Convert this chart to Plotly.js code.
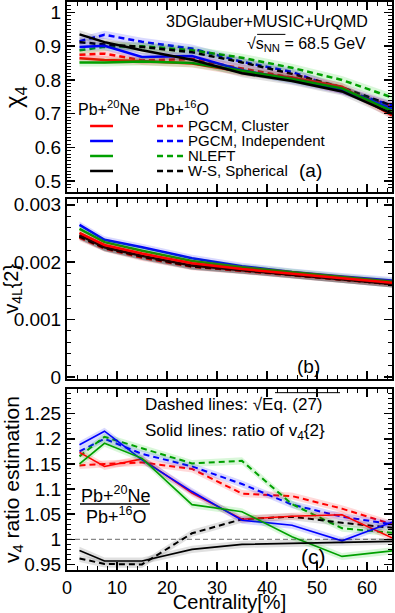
<!DOCTYPE html>
<html>
<head>
<meta charset="utf-8">
<script src="https://cdn.plot.ly/plotly-3.0.1.min.js"></script>
<style>
  body { margin: 0; background: #fff; }
  #plot { width: 395px; height: 613px; }
</style>
</head>
<body>
<div id="plot"></div>
<script>
// centrality bins [%]
const centrality = [2.5, 7.5, 15, 25, 35, 45, 55, 65];

// (a) chi_4 : Pb+20Ne (solid) and Pb+16O (dashed)
const chiNeCluster = [0.864, 0.859, 0.856, 0.849, 0.824, 0.807, 0.780, 0.695];
const chiNeIndep   = [0.898, 0.901, 0.868, 0.871, 0.829, 0.800, 0.770, 0.715];
const chiNeNleft   = [0.852, 0.852, 0.855, 0.850, 0.827, 0.803, 0.775, 0.708];
const chiNeWS      = [0.935, 0.912, 0.888, 0.860, 0.820, 0.797, 0.766, 0.700];
const chiOCluster  = [0.875, 0.878, 0.858, 0.862, 0.834, 0.807, 0.770, 0.722];
const chiOIndep    = [0.915, 0.934, 0.913, 0.893, 0.854, 0.824, 0.770, 0.725];
const chiONleft    = [0.888, 0.898, 0.900, 0.888, 0.866, 0.836, 0.800, 0.748];
const chiOWS       = [0.912, 0.905, 0.898, 0.882, 0.852, 0.818, 0.778, 0.724];

// (b) v4L{2}
const v4NeCluster = [0.00251, 0.00230, 0.00215, 0.00198, 0.00188, 0.00180, 0.00172, 0.00164];
const v4NeIndep   = [0.00265, 0.00239, 0.00226, 0.00207, 0.00193, 0.00183, 0.00175, 0.00168];
const v4NeNleft   = [0.00258, 0.00235, 0.00220, 0.00202, 0.00191, 0.00182, 0.00174, 0.00166];
const v4NeWS      = [0.00247, 0.00226, 0.00211, 0.00194, 0.00186, 0.00178, 0.00170, 0.00162];
const v4OCluster  = [0.00243, 0.00224, 0.00208, 0.00192, 0.00185, 0.00177, 0.00169, 0.00162];
const v4OIndep    = [0.00245, 0.00225, 0.00210, 0.00193, 0.00186, 0.00178, 0.00170, 0.00162];
const v4ONleft    = [0.00245, 0.00225, 0.00210, 0.00193, 0.00186, 0.00178, 0.00170, 0.00162];
const v4OWS       = [0.00245, 0.00225, 0.00210, 0.00193, 0.00186, 0.00178, 0.00170, 0.00162];

// (c) ratio estimation: solid = ratio of v4{2}, dashed = sqrt(Eq. 27)
const ratioCluster    = [1.173, 1.145, 1.160, 1.092, 1.040, 1.046, 1.049, 1.003];
const ratioIndep      = [1.188, 1.215, 1.158, 1.095, 1.038, 1.028, 0.997, 1.034];
const ratioNleft      = [1.150, 1.191, 1.161, 1.069, 1.055, 1.005, 0.966, 0.977];
const ratioWS         = [0.978, 0.957, 0.957, 0.980, 0.990, 0.992, 0.993, 0.996];
const estimCluster    = [1.147, 1.150, 1.153, 1.140, 1.091, 1.086, 1.061, 1.030];
const estimIndep      = [1.175, 1.200, 1.170, 1.145, 1.110, 1.069, 1.045, 1.030];
const estimNleft      = [1.165, 1.204, 1.181, 1.151, 1.156, 1.070, 1.022, 1.013];
const estimWS         = [0.962, 0.951, 0.950, 1.012, 1.040, 1.045, 1.033, 1.023];

// half widths of the shaded bands
const errA = 0.012;
const errB = 0.00006;
const errC = 0.007;

const FONT = "Liberation Sans, Arial, sans-serif";
const RED = "#ff0000", BLUE = "#0000ff", GREEN = "#00a000", BLACK = "#000000";
const BAND = {
  [RED]: "rgba(255,0,0,0.15)",
  [BLUE]: "rgba(0,0,255,0.15)",
  [GREEN]: "rgba(0,200,0,0.15)",
  [BLACK]: "rgba(0,0,0,0.12)",
};
const DASH = "6px,4px";

const traces = [];

// line with a shaded band around it
function addSeries(xa, ya, values, color, dashed, width, err) {
  traces.push({
    x: centrality, y: values.map(v => v - err), xaxis: xa, yaxis: ya,
    mode: "lines", line: { width: 0, color: color }, hoverinfo: "skip", showlegend: false,
  });
  traces.push({
    x: centrality, y: values.map(v => v + err), xaxis: xa, yaxis: ya,
    mode: "lines", line: { width: 0, color: color }, fill: "tonexty", fillcolor: BAND[color],
    hoverinfo: "skip", showlegend: false,
  });
  traces.push({
    x: centrality, y: values, xaxis: xa, yaxis: ya,
    mode: "lines", line: { width: width, color: color, dash: dashed ? DASH : "solid" },
    showlegend: false,
  });
}

// panel (a)
addSeries("x", "y", chiOCluster, RED, true, 2.5, errA);
addSeries("x", "y", chiOIndep, BLUE, true, 2.5, errA);
addSeries("x", "y", chiONleft, GREEN, true, 2.5, errA);
addSeries("x", "y", chiOWS, BLACK, true, 2.5, errA);
addSeries("x", "y", chiNeCluster, RED, false, 2.5, errA);
addSeries("x", "y", chiNeIndep, BLUE, false, 2.5, errA);
addSeries("x", "y", chiNeNleft, GREEN, false, 2.5, errA);
addSeries("x", "y", chiNeWS, BLACK, false, 2.5, errA);

// panel (b)
addSeries("x2", "y2", v4OIndep, BLUE, true, 2.5, errB);
addSeries("x2", "y2", v4ONleft, GREEN, true, 2.5, errB);
addSeries("x2", "y2", v4OCluster, RED, true, 2.5, errB);
addSeries("x2", "y2", v4OWS, BLACK, true, 2.5, errB);
addSeries("x2", "y2", v4NeIndep, BLUE, false, 2.5, errB);
addSeries("x2", "y2", v4NeNleft, GREEN, false, 2.5, errB);
addSeries("x2", "y2", v4NeWS, BLACK, false, 2.5, errB);
addSeries("x2", "y2", v4NeCluster, RED, false, 2.5, errB);

// panel (c)
addSeries("x3", "y3", estimCluster, RED, true, 2, errC);
addSeries("x3", "y3", estimIndep, BLUE, true, 2, errC);
addSeries("x3", "y3", estimNleft, GREEN, true, 2, errC);
addSeries("x3", "y3", estimWS, BLACK, true, 2, errC);
addSeries("x3", "y3", ratioCluster, RED, false, 1.6, errC);
addSeries("x3", "y3", ratioIndep, BLUE, false, 1.6, errC);
addSeries("x3", "y3", ratioNleft, GREEN, false, 1.6, errC);
addSeries("x3", "y3", ratioWS, BLACK, false, 1.6, errC);

function xAxis(anchor, labels) {
  return {
    anchor: anchor, domain: [0, 1], range: [0, 65],
    tickmode: "linear", tick0: 0, dtick: 10,
    ticks: "inside", ticklen: 8, tickwidth: 1.5, tickcolor: "#000",
    minor: { dtick: 2, ticks: "inside", ticklen: 4, tickwidth: 1, tickcolor: "#000" },
    showline: true, linewidth: 2, linecolor: "#000", mirror: "ticks",
    showgrid: false, zeroline: false, showticklabels: labels,
    tickfont: { family: FONT, size: 18, color: "#000" },
  };
}

function yAxis(anchor, domain, range, dtick, tick0, minor, title, titleSize, standoff) {
  return {
    anchor: anchor, domain: domain, range: range,
    tickmode: "linear", tick0: tick0, dtick: dtick, exponentformat: "none",
    ticks: "inside", ticklen: 8, tickwidth: 1.5, tickcolor: "#000",
    minor: { dtick: minor, ticks: "inside", ticklen: 4, tickwidth: 1, tickcolor: "#000" },
    showline: true, linewidth: 2, linecolor: "#000", mirror: "ticks",
    showgrid: false, zeroline: false,
    tickfont: { family: FONT, size: 19, color: "#000" },
    title: { text: title, font: { family: FONT, size: titleSize, color: "#000" }, standoff: standoff },
  };
}

const ann = (text, x, y, size, xanchor) => ({
  text: text, x: x, y: y, xref: "paper", yref: "paper", showarrow: false,
  xanchor: xanchor || "center", yanchor: "middle",
  font: { family: FONT, size: size, color: "#000" },
});

const legendLine = (x0, x1, y, color, dashed) => ({
  type: "line", xref: "paper", yref: "paper", x0: x0, x1: x1, y0: y, y1: y,
  line: { color: color, width: 2.5, dash: dashed ? DASH : "solid" },
});

const rows = [0.7817, 0.7553, 0.7289, 0.7025];
const colors = [RED, BLUE, GREEN, BLACK];
const names = ["PGCM, Cluster", "PGCM, Independent", "NLEFT", "W-S, Spherical"];

const shapes = [];
const annotations = [];
rows.forEach((y, i) => {
  shapes.push(legendLine(0.071, 0.1415, y, colors[i], false));
  shapes.push(legendLine(0.277, 0.357, y, colors[i], true));
  annotations.push(ann(names[i], 0.366, y, 15, "left"));
});
annotations.push(ann("Pb+<sup>20</sup>Ne", 0.129, 0.8134, 16));
annotations.push(ann("Pb+<sup>16</sup>O", 0.354, 0.8134, 16));
annotations.push(ann("3DGlauber+MUSIC+UrQMD", 0.932, 0.9665, 16, "right"));
annotations.push(ann("\u221As<sub>NN</sub> = 68.5 GeV", 0.926, 0.926, 16, "right"));
annotations.push(ann("(a)", 0.748, 0.704, 19));
annotations.push(ann("(b)", 0.742, 0.359, 19));
annotations.push(ann("Dashed lines: \u221AEq. (27)", 0.234, 0.2905, 17, "left"));
annotations.push(ann("Solid lines: ratio of v<sub>4</sub>{2}", 0.234, 0.243, 17, "left"));
annotations.push(ann("Pb+<sup>20</sup>Ne", 0.151, 0.1338, 18));
annotations.push(ann("Pb+<sup>16</sup>O", 0.151, 0.0968, 18));
annotations.push(ann("(c)", 0.757, 0.0246, 21));

// fraction bar and square-root overlines
shapes.push({ type: "line", xref: "paper", yref: "paper", x0: 0.04, x1: 0.255, y0: 0.1162, y1: 0.1162,
  line: { color: "#000", width: 1.5 } });
shapes.push({ type: "line", xref: "paper", yref: "paper", x0: 0.585, x1: 0.672, y0: 0.943, y1: 0.943,
  line: { color: "#000", width: 1 } });
shapes.push({ type: "line", xref: "paper", yref: "paper", x0: 0.64, x1: 0.84, y0: 0.3122, y1: 0.3122,
  line: { color: "#000", width: 1 } });

// reference line at ratio 1
shapes.push({ type: "line", xref: "x3", yref: "y3", x0: 0, x1: 65, y0: 1, y1: 1, layer: "below",
  line: { color: "#888", width: 1.2, dash: "5px,3px" } });

const layout = {
  width: 395, height: 613,
  margin: { l: 67, r: 3, t: 2, b: 43 },
  paper_bgcolor: "#fff", plot_bgcolor: "#fff",
  showlegend: false,
  font: { family: FONT, color: "#000" },
  xaxis: xAxis("y", false),
  xaxis2: xAxis("y2", false),
  xaxis3: Object.assign(xAxis("y3", true), {
    title: { text: "Centrality[%]", font: { family: FONT, size: 20, color: "#000" }, standoff: 0 },
  }),
  yaxis: yAxis("x", [0.6655, 1], [0.468, 1.031], 0.1, 0.5, 0.01, "\u03C7<sub>4</sub>", 24, 8),
  yaxis2: yAxis("x2", [0.337, 0.653], [-0.00003, 0.0031], 0.001, 0, 0.0002, "v<sub>4L</sub>{2}", 20, 2),
  yaxis3: yAxis("x3", [0, 0.3187], [0.939, 1.299], 0.05, 0.95, 0.01, "v<sub>4</sub> ratio estimation", 21, 4),
  shapes: shapes,
  annotations: annotations,
};

Plotly.newPlot("plot", traces, layout, { displayModeBar: false, staticPlot: true });
</script>
</body>
</html>
